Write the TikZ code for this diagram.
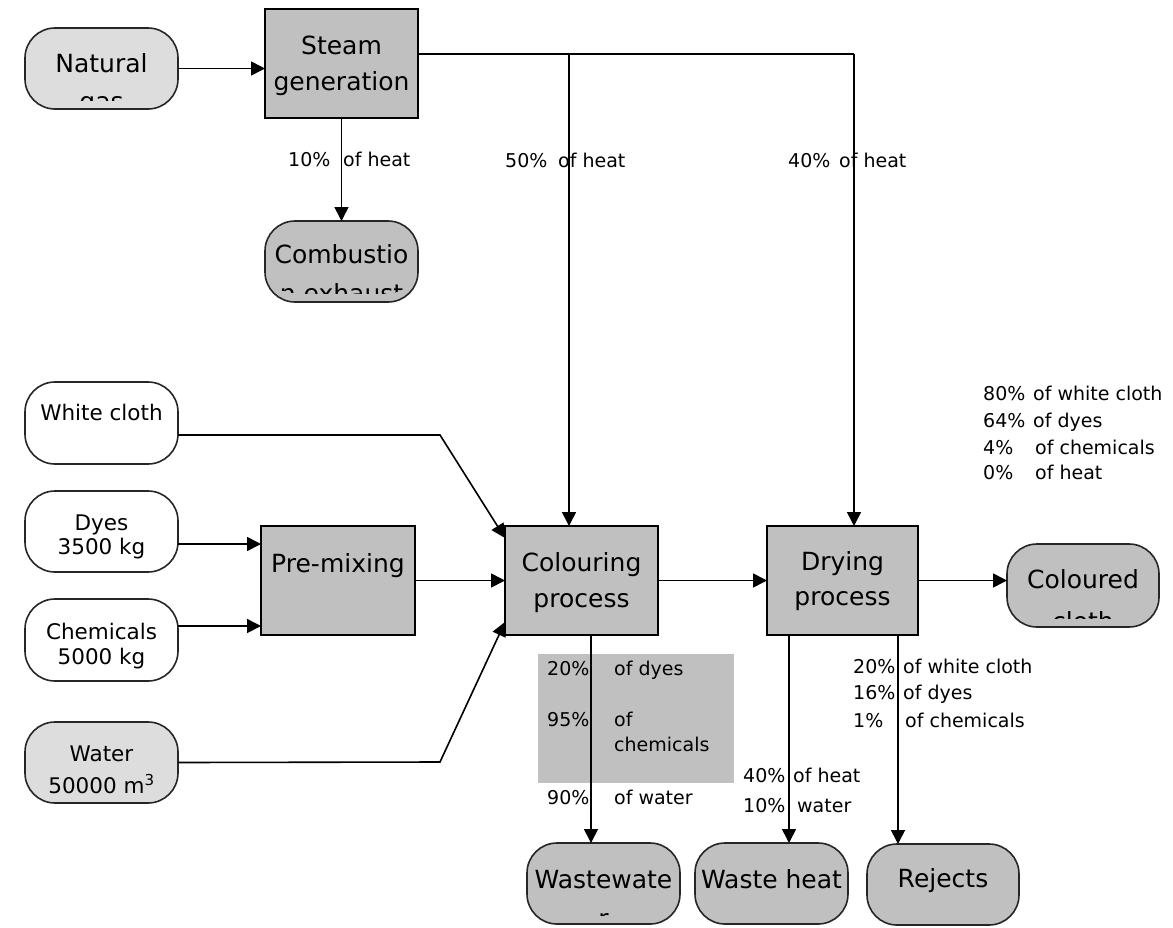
\documentclass[tikz,border=0pt]{standalone}
\usepackage{fontspec}
\setmainfont{DejaVu Sans}
\usetikzlibrary{arrows.meta,calc}
\definecolor{boxgrey}{HTML}{C0C0C0}
\definecolor{lightgrey}{HTML}{DDDDDD}
\newcommand{\pcol}[2]{\makebox[#1pt][l]{#2}}
\newcommand{\boxtext}[4]{\node[#3] (#1) at ([yshift=-#2pt]path picture bounding box.north) {#4};}
\newcommand{\textclip}{\clip ([yshift=9pt]path picture bounding box.south west) rectangle (path picture bounding box.north east);}
\begin{document}
\begin{tikzpicture}[x=1pt,y=-1pt,
  proc/.style={draw=black, line width=1.6pt, fill=boxgrey, minimum width=153pt, minimum height=109pt, inner sep=0pt, outer sep=0pt},
  term/.style={draw=black!85, line width=1.6pt, rounded corners=30pt, minimum width=153pt, minimum height=81pt, inner sep=0pt, outer sep=0pt},
  flow/.style={line width=1.6pt, -{Triangle[length=14pt,width=14pt]}},
  plainline/.style={line width=1.6pt},
  bigtxt/.style={inner sep=0pt, anchor=base, draw=none, fill=none, font=\fontsize{25}{30}\selectfont},
  midtxt/.style={inner sep=0pt, anchor=base, draw=none, fill=none, font=\fontsize{21.5}{26}\selectfont},
  lbl/.style={inner sep=0pt, anchor=base west, font=\fontsize{19}{22}\selectfont},
]
\useasboundingbox (0,0) rectangle (1173,927);

% grey label box behind wastewater flow
\fill[boxgrey] (538,654) rectangle (734,783);

% ---- nodes ----
\node[term, fill=lightgrey, path picture={\textclip\boxtext{ng1}{44}{bigtxt}{Natural}\boxtext{ng2}{82}{bigtxt}{gas}}] (ng) at (101.5,68.5) {};
\node[proc, path picture={\boxtext{st1}{45}{bigtxt}{Steam}\boxtext{st2}{81}{bigtxt}{generation}}] (st) at (341.5,63.5) {};
\node[term, fill=boxgrey, path picture={\textclip\boxtext{cb1}{42}{bigtxt}{Combustio}\boxtext{cb2}{81}{bigtxt}{n exhaust}}] (cb) at (341.5,261.5) {};

\node[term, fill=white, minimum height=82pt, path picture={\boxtext{wc1}{38}{midtxt}{White cloth}}] (wc) at (101.5,423) {};
\node[term, fill=white, path picture={\boxtext{dy1}{39}{midtxt}{Dyes}\boxtext{dy2}{63}{midtxt}{3500 kg}}] (dy) at (101.5,531.5) {};
\node[term, fill=white, minimum height=82pt, path picture={\boxtext{ch1}{40}{midtxt}{Chemicals}\boxtext{ch2}{65}{midtxt}{5000 kg}}] (ch) at (101.5,640) {};
\node[term, fill=lightgrey, path picture={\textclip\boxtext{wa1}{39}{midtxt}{Water}\boxtext{wa2}{71}{midtxt}{50000 m\textsuperscript{3}}}] (wa) at (101.5,762.5) {};

\node[proc, minimum width=154pt, path picture={\boxtext{pm1}{46}{bigtxt}{Pre-mixing}}] (pm) at (338,580.5) {};
\node[proc, path picture={\boxtext{co1}{45}{bigtxt}{Colouring}\boxtext{co2}{81}{bigtxt}{process}}] (co) at (581.5,580.5) {};
\node[proc, minimum width=151pt, path picture={\boxtext{dr1}{44}{bigtxt}{Drying}\boxtext{dr2}{79}{bigtxt}{process}}] (dr) at (842.5,580.5) {};
\node[term, fill=boxgrey, minimum width=152pt, minimum height=83pt, path picture={\textclip\boxtext{cc1}{44}{bigtxt}{Coloured}\boxtext{cc2}{86}{bigtxt}{cloth}}] (cc) at (1083,585.5) {};

\node[term, fill=boxgrey, path picture={\textclip\boxtext{ww1}{45}{bigtxt}{Wastewate}\boxtext{ww2}{84}{bigtxt}{r}}] (ww) at (603.5,883.5) {};
\node[term, fill=boxgrey, path picture={\boxtext{wh1}{45}{bigtxt}{Waste heat}}] (wh) at (771.5,883.5) {};
\node[term, fill=boxgrey, minimum width=152pt, path picture={\boxtext{rj1}{43}{bigtxt}{Rejects}}] (rj) at (943,884.5) {};

% ---- connectors ----
\coordinate (splitA) at (569,54);
\coordinate (splitB) at (854,54);
\coordinate (wcbend) at (440,435);
\coordinate (wabend) at (440,762);

\draw[flow] (ng.east) -- (st.west |- ng.east);
\draw[flow] (st.south) -- (cb.north);
\draw[plainline] ([yshift=9.5pt]st.east) -- (splitB);
\draw[flow] (splitA) -- (splitA |- co.north);
\draw[flow] (splitB) -- (splitB |- dr.north);

\draw[flow] ([yshift=-12pt]wc.east) -- (wcbend) -- ([yshift=-12pt]co.north west);
\draw[flow] ([yshift=-12.5pt]dy.east) -- ([yshift=-12.5pt]dy.east -| pm.west);
\draw[flow] ([yshift=14pt]ch.east) -- ([yshift=14pt]ch.east -| pm.west);
\draw[flow] (pm.east) -- (co.west);
\draw[flow] (wa.east) -- (wabend) -- ([yshift=13pt]co.south west);
\draw[flow] (co.east) -- (dr.west);
\draw[flow] (dr.east) -- (dr.east -| cc.west);

\draw[flow] ([xshift=9.5pt]co.south) -- ([xshift=9.5pt]co.south |- ww.north);
\draw[flow] ([xshift=-53.5pt]dr.south) -- ([xshift=-53.5pt]dr.south |- wh.north);
\draw[flow] ([xshift=55.5pt]dr.south) -- ([xshift=55.5pt]dr.south |- rj.north);

% ---- labels ----
\node[lbl] (h10) at (288,166) {\pcol{55}{10\%}of heat};
\node[lbl] (h50) at (505,167) {\pcol{53}{50\%}of heat};
\node[lbl] (h40) at (788,167) {\pcol{51}{40\%}of heat};

\node[lbl] (t1) at (983,400) {\pcol{50}{80\%}of white cloth};
\node[lbl] (t2) at (983,427) {\pcol{50}{64\%}of dyes};
\node[lbl] (t3) at (983,454) {\pcol{52}{4\%}of chemicals};
\node[lbl] (t4) at (983,479) {\pcol{52}{0\%}of heat};

\node[lbl] (g1) at (547,675) {\pcol{67}{20\%}of dyes};
\node[lbl] (g2) at (547,726) {\pcol{67}{95\%}of};
\node[lbl] (g3) at (614,751) {chemicals};
\node[lbl] (g4) at (547,804) {\pcol{67}{90\%}of water};

\node[lbl] (w1) at (743,782) {\pcol{50}{40\%}of heat};
\node[lbl] (w2) at (743,812) {\pcol{54}{10\%}water};

\node[lbl] (r1) at (853,673) {\pcol{50}{20\%}of white cloth};
\node[lbl] (r2) at (853,699) {\pcol{50}{16\%}of dyes};
\node[lbl] (r3) at (853,727) {\pcol{52}{1\%}of chemicals};
\end{tikzpicture}
\end{document}
